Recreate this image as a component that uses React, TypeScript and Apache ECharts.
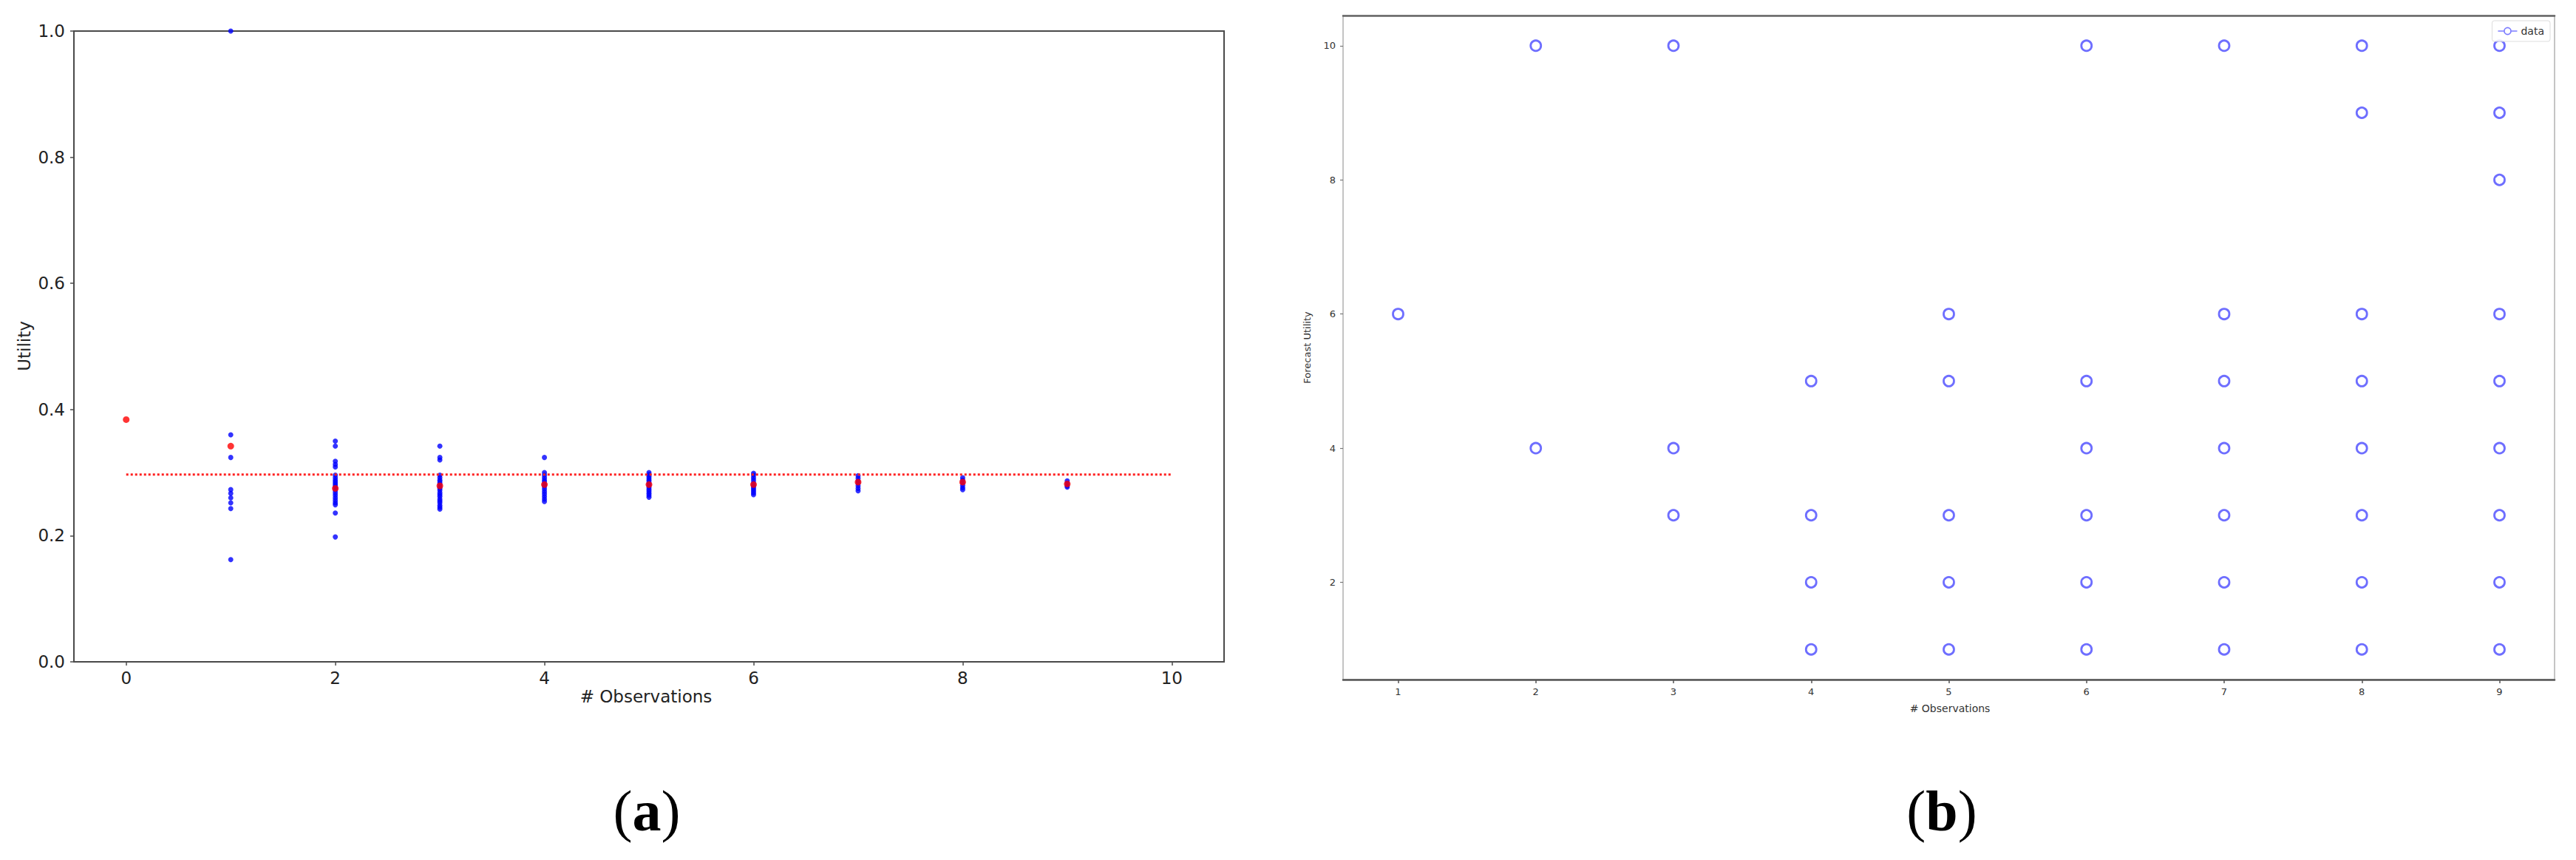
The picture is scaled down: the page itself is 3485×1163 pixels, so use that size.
import React, { useEffect, useRef } from "react";
import * as echarts from "echarts";

// ---------- Panel (a): utility vs. # observations ----------
const obsTicksA = [0, 2, 4, 6, 8, 10];
const blue0: number[] = [];
const blue1 = [1.0, 0.36, 0.324, 0.273, 0.267, 0.26, 0.252, 0.243, 0.162];
const blue2 = [0.35, 0.342, 0.318, 0.313, 0.309, 0.296, 0.292, 0.288, 0.285, 0.282, 0.279, 0.276, 0.272, 0.268, 0.264, 0.26, 0.256, 0.252, 0.249, 0.236, 0.198];
const blue3 = [0.342, 0.324, 0.32, 0.296, 0.292, 0.288, 0.285, 0.282, 0.278, 0.275, 0.272, 0.268, 0.265, 0.262, 0.258, 0.255, 0.252, 0.248, 0.245, 0.242];
const blue4 = [0.324, 0.3, 0.296, 0.292, 0.288, 0.285, 0.281, 0.278, 0.274, 0.27, 0.266, 0.262, 0.258, 0.254];
const blue5 = [0.3, 0.297, 0.294, 0.291, 0.288, 0.285, 0.282, 0.279, 0.276, 0.273, 0.27, 0.267, 0.264, 0.261];
const blue6 = [0.299, 0.296, 0.292, 0.288, 0.284, 0.28, 0.277, 0.274, 0.271, 0.268, 0.265];
const blue7 = [0.295, 0.291, 0.287, 0.283, 0.279, 0.275, 0.271];
const blue8 = [0.292, 0.288, 0.284, 0.28, 0.276, 0.273];
const blue9 = [0.287, 0.283, 0.279, 0.277];
const meanUtility = [0.384, 0.342, 0.275, 0.279, 0.281, 0.281, 0.281, 0.285, 0.285, 0.282];
const baselineUtility = 0.297;
const baselineObs = [0, 10];

// ---------- Panel (b): forecast utility vs. # observations ----------
const obsTicksB = [1, 2, 3, 4, 5, 6, 7, 8, 9];
const forecastTicksB = [2, 4, 6, 8, 10];
const forecast1 = [6];
const forecast2 = [10, 4];
const forecast3 = [10, 4, 3];
const forecast4 = [5, 3, 2, 1];
const forecast5 = [6, 5, 3, 2, 1];
const forecast6 = [10, 5, 4, 3, 2, 1];
const forecast7 = [10, 6, 5, 4, 3, 2, 1];
const forecast8 = [10, 9, 6, 5, 4, 3, 2, 1];
const forecast9 = [10, 9, 8, 6, 5, 4, 3, 2, 1];

const blueByObs = [blue0, blue1, blue2, blue3, blue4, blue5, blue6, blue7, blue8, blue9];
const forecastByObs = [forecast1, forecast2, forecast3, forecast4, forecast5, forecast6, forecast7, forecast8, forecast9];

const SANS = "DejaVu Sans";
const SERIF = "Liberation Serif";
const TXT = "#222";

export default function App() {
  const ref = useRef<HTMLDivElement>(null);

  useEffect(() => {
    if (!ref.current) return;
    const chart = echarts.init(ref.current, null, { renderer: "svg" });

    const blueData = blueByObs.flatMap((vals, i) => vals.map((v) => [i, v]));
    const meanData = meanUtility.map((v, i) => [i, v]);
    const baseData = baselineObs.map((x) => [x, baselineUtility]);
    const forecastData = forecastByObs.flatMap((vals, i) => vals.map((v) => [obsTicksB[i], v]));

    const ringIcon =
      "path://M0,5.4 L7,5.4 L7,6.6 L0,6.6 Z M17,5.4 L24,5.4 L24,6.6 L17,6.6 Z " +
      "M17,6 A5,5 0 1,0 7,6 A5,5 0 1,0 17,6 Z M15.4,6 A3.4,3.4 0 1,1 8.6,6 A3.4,3.4 0 1,1 15.4,6 Z";

    chart.setOption({
      animation: false,
      backgroundColor: "#fff",
      grid: [
        { left: 100, top: 42, width: 1556, height: 853, show: true, borderColor: "#4a4a4a", borderWidth: 2, backgroundColor: "transparent" },
        { left: 1817, top: 21, width: 1639, height: 898, show: true, borderColor: "#c4c4c4", borderWidth: 2, backgroundColor: "transparent" },
      ],
      xAxis: [
        {
          type: "value", gridIndex: 0, min: -0.5, max: 10.5,
          axisLine: { show: true, onZero: false, lineStyle: { color: "#4a4a4a", width: 2 } },
          axisTick: { show: true, customValues: obsTicksA, length: 5, lineStyle: { color: "#4a4a4a", width: 1.5 } },
          axisLabel: { customValues: obsTicksA, margin: 10, fontSize: 23, fontFamily: SANS, color: TXT },
          splitLine: { show: false },
        },
        {
          type: "value", gridIndex: 1, min: 0.6, max: 9.4,
          axisLine: { show: true, onZero: false, lineStyle: { color: "#555", width: 2.5 } },
          axisTick: { show: true, customValues: obsTicksB, length: 5, lineStyle: { color: "#555", width: 1.5 } },
          axisLabel: { customValues: obsTicksB, margin: 10, fontSize: 13, fontFamily: SANS, color: "#333" },
          splitLine: { show: false },
        },
        {
          type: "value", gridIndex: 1, position: "top", min: 0.6, max: 9.4,
          axisLine: { show: true, onZero: false, lineStyle: { color: "#666", width: 2.5 } },
          axisTick: { show: false }, axisLabel: { show: false }, splitLine: { show: false },
        },
      ],
      yAxis: [
        {
          type: "value", gridIndex: 0, min: 0, max: 1, interval: 0.2,
          axisLine: { show: true, onZero: false, lineStyle: { color: "#4a4a4a", width: 2 } },
          axisTick: { show: true, length: 5, lineStyle: { color: "#4a4a4a", width: 1.5 } },
          axisLabel: { margin: 12, fontSize: 23, fontFamily: SANS, color: TXT, formatter: (v: number) => v.toFixed(1) },
          splitLine: { show: false },
        },
        {
          type: "value", gridIndex: 1, min: 0.55, max: 10.45,
          axisLine: { show: false },
          axisTick: { show: true, customValues: forecastTicksB, length: 4, lineStyle: { color: "#777", width: 1.2 } },
          axisLabel: { customValues: forecastTicksB, margin: 10, fontSize: 13, fontFamily: SANS, color: "#333" },
          splitLine: { show: false },
        },
      ],
      legend: {
        data: [{ name: "data", icon: ringIcon, itemStyle: { color: "#5a5aff", borderWidth: 0 } }],
        right: 35, top: 28,
        itemWidth: 26, itemHeight: 13, itemGap: 6,
        padding: [7, 8],
        borderColor: "#ddd", borderWidth: 1, borderRadius: 3,
        backgroundColor: "rgba(255,255,255,0.85)",
        textStyle: { fontSize: 14, fontFamily: SANS, color: "#333" },
      },
      series: [
        {
          type: "scatter", xAxisIndex: 0, yAxisIndex: 0, data: blueData,
          symbol: "circle", symbolSize: 7, itemStyle: { color: "#0000ff" }, silent: true,
        },
        {
          type: "line", xAxisIndex: 0, yAxisIndex: 0, data: baseData,
          symbol: "none", lineStyle: { color: "#ff2020", width: 3, type: "dotted" }, silent: true,
        },
        {
          type: "scatter", xAxisIndex: 0, yAxisIndex: 0, data: meanData,
          symbol: "circle", symbolSize: 9, itemStyle: { color: "#ff0000" }, silent: true,
        },
        {
          name: "data", type: "scatter", xAxisIndex: 1, yAxisIndex: 1, data: forecastData,
          symbol: "circle", symbolSize: 14,
          itemStyle: { color: "rgba(0,0,0,0)", borderColor: "#4a4aff", borderWidth: 2.8 }, silent: true,
        },
      ],
      graphic: [
        {
          type: "text", x: 874, y: 942,
          style: { text: "# Observations", font: `23px '${SANS}'`, fill: TXT, align: "center", verticalAlign: "middle", textAlign: "center", textVerticalAlign: "middle" },
        },
        {
          type: "text", x: 33, y: 468, rotation: Math.PI / 2,
          style: { text: "Utility", font: `23px '${SANS}'`, fill: TXT, align: "center", verticalAlign: "middle", textAlign: "center", textVerticalAlign: "middle" },
        },
        {
          type: "text", x: 2638, y: 958,
          style: { text: "# Observations", font: `14px '${SANS}'`, fill: "#333", align: "center", verticalAlign: "middle", textAlign: "center", textVerticalAlign: "middle" },
        },
        {
          type: "text", x: 1768, y: 470, rotation: Math.PI / 2,
          style: { text: "Forecast Utility", font: `13px '${SANS}'`, fill: "#333", align: "center", verticalAlign: "middle", textAlign: "center", textVerticalAlign: "middle" },
        },
        {
          type: "text", x: 875, y: 1096,
          style: {
            text: "{p|(}{b|a}{p|)}", align: "center", verticalAlign: "middle", textAlign: "center", textVerticalAlign: "middle",
            rich: {
              p: { fontSize: 78, fontFamily: SERIF, color: "#000" },
              b: { fontSize: 78, fontFamily: SERIF, fontWeight: "bold", color: "#000" },
            },
          },
        },
        {
          type: "text", x: 2627, y: 1096,
          style: {
            text: "{p|(}{b|b}{p|)}", align: "center", verticalAlign: "middle", textAlign: "center", textVerticalAlign: "middle",
            rich: {
              p: { fontSize: 78, fontFamily: SERIF, color: "#000" },
              b: { fontSize: 78, fontFamily: SERIF, fontWeight: "bold", color: "#000" },
            },
          },
        },
      ],
    });

    return () => chart.dispose();
  }, []);

  return (
    <div
      ref={ref}
      style={{ position: "fixed", left: 0, top: 0, width: 3485, height: 1163, background: "#fff" }}
    />
  );
}
